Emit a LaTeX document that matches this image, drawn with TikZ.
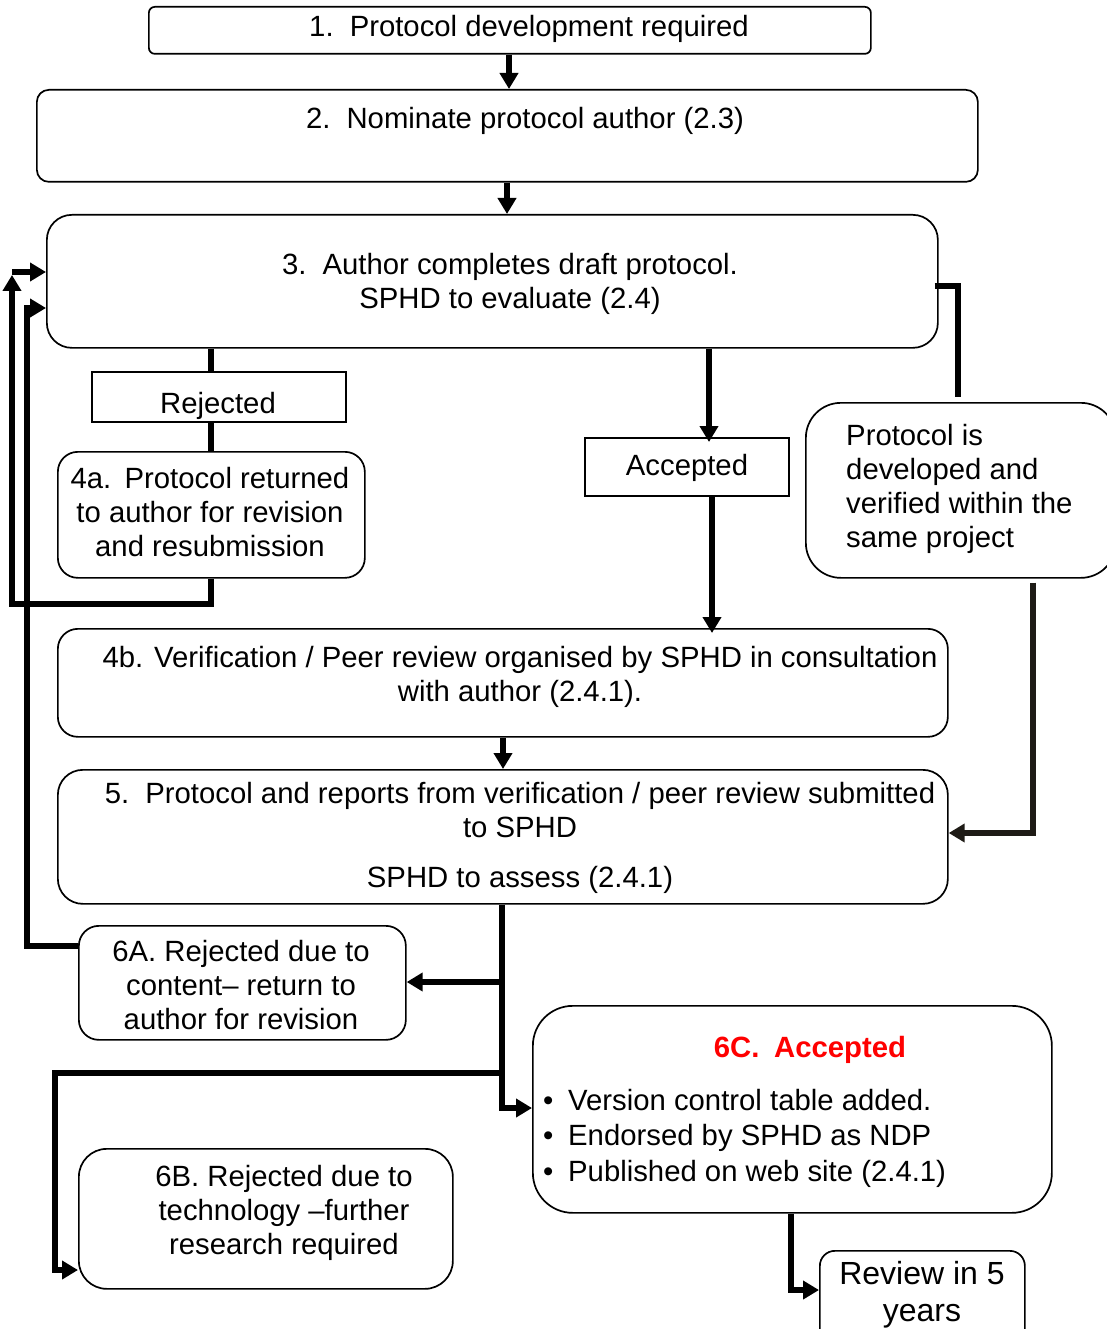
\documentclass[tikz,border=0pt]{standalone}
\usepackage{fontspec}
\setmainfont{Liberation Sans}
\usetikzlibrary{arrows.meta}
\definecolor{darkline}{RGB}{30,27,22}
\definecolor{redtxt}{RGB}{255,0,0}
\begin{document}
\begin{tikzpicture}[x=1pt,y=-1pt,
  font=\fontsize{29.3}{34}\selectfont,
  rbox/.style={draw, line width=1.7pt, inner sep=0pt, anchor=north west},
  sqbox/.style={draw, line width=1.5pt, inner sep=0pt, anchor=north west},
  txt/.style={inner sep=0pt, align=center},
  thk/.style={line width=5.5pt},
  arr/.style={line width=5.5pt, -{Triangle[length=16pt,width=18pt]}},
]
\useasboundingbox (0,0) rectangle (1107,1329);
\fill[white] (0,0) rectangle (1107,1329);
\clip (0,0) rectangle (1107,1329);

% boxes
\node[rbox, rounded corners=6, minimum width=722, minimum height=47] (b1) at (148,6) {};
\node[rbox, rounded corners=12, minimum width=941, minimum height=92] (b2) at (36,89) {};
\node[rbox, rounded corners=25, minimum width=891, minimum height=133] (b3) at (46,214) {};
\node[sqbox, minimum width=254, minimum height=50] (rej) at (91,371) {};
\node[rbox, rounded corners=20, minimum width=307, minimum height=126] (b4a) at (57,451) {};
\node[sqbox, minimum width=204, minimum height=58] (acc) at (584,437) {};
\node[rbox, rounded corners=35, minimum width=310, minimum height=175] (bP) at (805,402) {};
\node[rbox, rounded corners=20, minimum width=890, minimum height=108] (b4b) at (57,628) {};
\node[rbox, rounded corners=25, minimum width=890, minimum height=134] (b5) at (57,769) {};
\node[rbox, rounded corners=20, minimum width=327, minimum height=114] (b6A) at (78,925) {};
\node[rbox, rounded corners=40, minimum width=519, minimum height=207] (b6C) at (532,1005) {};
\node[rbox, rounded corners=28, minimum width=374, minimum height=140] (b6B) at (78,1148) {};
\node[rbox, rounded corners=15, minimum width=205, minimum height=95] (bR) at (819,1250) {};

% texts
\node[txt] (t1) at (529,29) {1.\hspace{0.55em}Protocol development required};
\node[txt] (t2) at (525,121) {2.\hspace{0.55em}Nominate protocol author (2.3)};
\node[txt] (t3) at (510,284) {3.\hspace{0.55em}Author completes draft protocol.\\SPHD to evaluate (2.4)};
\begin{scope}
\clip (rej.south west) rectangle (rej.north east);
\node[txt] (trej) at (218,406) {Rejected};
\end{scope}
\node[txt] (t4a) at (210,512) {4a.\hspace{0.45em}Protocol returned\\to author for revision\\and resubmission};
\node[txt] (tacc) at (687,468) {Accepted};
\node[txt, align=left, anchor=west] (tP) at (846,489) {Protocol is\\developed and\\verified within the\\same project};
\node[txt] (t4b) at (520,677) {4b. Verification / Peer review organised by SPHD in consultation\\with author (2.4.1).};
\node[txt] (t5) at (520,838) {5.\hspace{0.55em}Protocol and reports from verification / peer review submitted\\to SPHD\\[16pt]SPHD to assess (2.4.1)};
\node[txt] (t6A) at (241,985) {6A. Rejected due to\\content-- return to\\author for revision};
\node[txt] (t6B) at (284,1213) {6B. Rejected due to\\technology --further\\research required};
\node[txt, text=redtxt, font=\fontsize{29.3}{34}\selectfont\bfseries] (t6C) at (810,1050) {6C.\hspace{0.5em}Accepted};
\node[txt, align=left, anchor=west, font=\fontsize{29.3}{35.5}\selectfont] (tlist) at (543,1138) {\makebox[25pt][l]{\textbullet}Version control table added.\\\makebox[25pt][l]{\textbullet}Endorsed by SPHD as NDP\\\makebox[25pt][l]{\textbullet}Published on web site (2.4.1)};
\node[txt, font=\fontsize{32}{37}\selectfont] (tR) at (922,1295) {Review in 5\\years};

% connectors
\draw[arr] (b1.south -| 509,0) -- (b2.north -| 509,0);
\draw[arr] (b2.south -| 507,0) -- (b3.north -| 507,0);
\draw[thk] (b3.south -| 211,0) -- (rej.north -| 211,0);
\draw[thk] (rej.south -| 211,0) -- (b4a.north -| 211,0);
\coordinate (c1) at (12,272);
\draw[arr] (b4a.south -| 211,0) |- (12,604) -- (12,275);
\draw[arr] (c1) -- (b3.west |- c1);
\draw[arr] (b6A.west |- 0,946) -| (27,308) -- (b3.west |- 0,308);
\draw[arr] (b3.south -| 709,0) -- ([yshift=-5pt]acc.north -| 709,0);
\draw[arr] (acc.south -| 712,0) -- ([yshift=-5pt]b4b.north -| 712,0);
\draw[thk] ([xshift=-4pt]b3.east |- 0,286) -| ([yshift=5pt]bP.north -| 958,0);
\draw[arr, darkline] ([yshift=-4pt]bP.south -| 1033,0) |- (b5.east |- 0,833);
\draw[arr] (b4b.south -| 503,0) -- (b5.north -| 503,0);
\draw[arr] (b5.south -| 502,0) |- (b6C.west |- 0,1108);
\draw[arr] (502,982) -- (b6A.east |- 0,982);
\draw[arr] (502,1073) -| (55,1270) -- (b6B.west |- 0,1270);
\draw[arr] (b6C.south -| 791,0) |- (bR.west |- 0,1290);
\end{tikzpicture}
\end{document}
